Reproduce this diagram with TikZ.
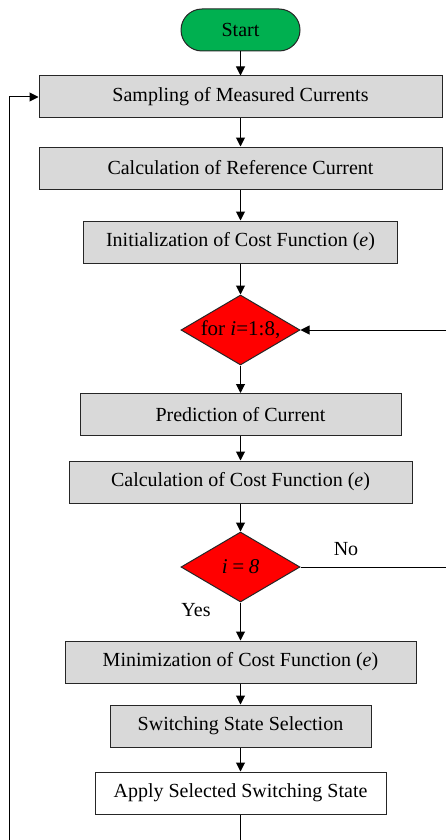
\documentclass[tikz,border=0pt]{standalone}
\usepackage{fontspec}
\setmainfont{Liberation Serif}
\usepackage{tikz}
\usetikzlibrary{arrows.meta,shapes.geometric}
\definecolor{startgreen}{RGB}{0,176,80}
\definecolor{boxgray}{RGB}{217,217,217}
\tikzset{>/.tip={Triangle[length=4.5pt,width=4.5pt]},
  proc/.style={draw=black!85, fill=boxgray, line width=0.5pt, minimum height=21pt, inner sep=0pt, font=\fontsize{10}{12}\selectfont},
  test/.style={diamond, shape aspect=1.7, draw=black!85, fill=red, line width=0.5pt, minimum width=59.5pt, minimum height=35pt, inner sep=0pt, font=\fontsize{10.5}{12}\selectfont},
  flow/.style={->, line width=0.5pt}}
\newcommand{\ivar}{\textit{i}}

\begin{document}
\begin{tikzpicture}[x=0.5pt,y=-0.5pt]
\useasboundingbox (0,0) rectangle (446,840);
\node[proc, fill=startgreen, rounded corners=10.5pt, minimum width=59.5pt] (start) at (240.5,30) {Start};
\node[proc, minimum width=201.5pt] (sample) at (240.5,97) {Sampling of Measured Currents};
\node[proc, minimum width=201.5pt] (refcur) at (240.5,168) {Calculation of Reference Current};
\node[proc, minimum width=157pt] (init) at (240.5,242) {Initialization of Cost Function (\textit{e})};
\node[test] (loop) at (240.5,330) {for \ivar=1:8,};
\node[proc, minimum width=160.5pt] (pred) at (240.5,414.5) {Prediction of Current};
\node[proc, minimum width=171.5pt] (cost) at (240.5,482) {Calculation of Cost Function (\textit{e})};
\node[test] (check) at (240.5,567) {\textit{i\,=\,8}};
\node[proc, minimum width=175.5pt] (mini) at (240.5,662) {Minimization of Cost Function (\textit{e})};
\node[proc, minimum width=130.5pt] (select) at (240.5,726) {Switching State Selection};
\node[proc, fill=white, minimum width=145.5pt] (apply) at (240.5,793) {Apply Selected Switching State};
\node[font=\fontsize{10}{12}\selectfont] (no) at (346,549) {No};
\node[font=\fontsize{10}{12}\selectfont] (yes) at (196,610) {Yes};

\coordinate (loopin) at (446,330);
\coordinate (noout) at (446,567);
\coordinate (down) at (240.5,840);
\coordinate (backlo) at (9,840);
\coordinate (backup) at (9,97);

\draw[flow] (start) to (sample);
\draw[flow] (sample) to (refcur);
\draw[flow] (refcur) to (init);
\draw[flow] (init) to (loop);
\draw[flow] (loop) to (pred);
\draw[flow] (pred) to (cost);
\draw[flow] (cost) to (check);
\draw[flow] (check) to (mini);
\draw[flow] (mini) to (select);
\draw[flow] (select) to (apply);
\draw[flow] (loopin) to (loop.east);
\draw[line width=0.5pt] (check.east) to (noout);
\draw[line width=0.5pt] (apply) to (down);
\draw[flow] (backlo) -- (backup) -- (sample.west);
\end{tikzpicture}
\end{document}
